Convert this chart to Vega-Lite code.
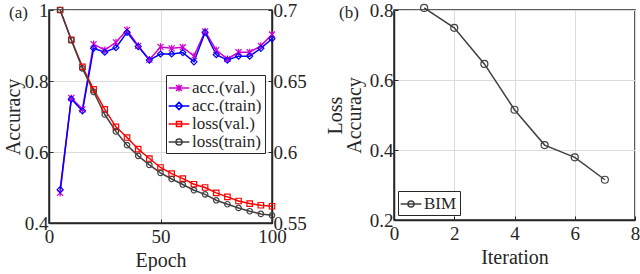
{
  "$schema": "https://vega.github.io/schema/vega-lite/v6.json",
  "background": "white",
  "padding": {"left": 2, "top": 0, "right": 0, "bottom": 0},
  "config": {
    "font": "Liberation Serif",
    "view": {"stroke": "#262626", "strokeWidth": 1.5},
    "concat": {"spacing": 17},
    "axis": {
      "labelFont": "Liberation Serif", "titleFont": "Liberation Serif",
      "labelFontSize": 19, "titleFontSize": 20, "titleFontWeight": "normal",
      "labelColor": "#262626", "titleColor": "#262626",
      "domainColor": "#262626", "domainWidth": 1.5,
      "tickColor": "#262626", "tickSize": -4, "tickWidth": 1,
      "gridColor": "#dcdcdc", "gridWidth": 1,
      "labelPadding": 5, "titlePadding": 1,
      "labelFlush": false, "labelOverlap": false
    },
    "axisX": {"labelPadding": 8, "titlePadding": 4},
    "legend": {
      "labelFont": "Liberation Serif", "labelFontSize": 17, "labelColor": "#262626",
      "strokeColor": "#262626", "fillColor": "white", "padding": 3,
      "symbolSize": 324, "symbolStrokeWidth": 1.5, "rowPadding": 0, "labelOffset": 3
    },
    "title": {"font": "Liberation Serif", "fontSize": 17, "fontWeight": "normal", "color": "#262626"}
  },
  "datasets": {
    "acc": [
      {"epoch": 5, "series": "acc.(val.)", "value": 0.485},
      {"epoch": 10, "series": "acc.(val.)", "value": 0.752},
      {"epoch": 15, "series": "acc.(val.)", "value": 0.720},
      {"epoch": 20, "series": "acc.(val.)", "value": 0.904},
      {"epoch": 25, "series": "acc.(val.)", "value": 0.887},
      {"epoch": 30, "series": "acc.(val.)", "value": 0.909},
      {"epoch": 35, "series": "acc.(val.)", "value": 0.944},
      {"epoch": 40, "series": "acc.(val.)", "value": 0.899},
      {"epoch": 45, "series": "acc.(val.)", "value": 0.860},
      {"epoch": 50, "series": "acc.(val.)", "value": 0.896},
      {"epoch": 55, "series": "acc.(val.)", "value": 0.892},
      {"epoch": 60, "series": "acc.(val.)", "value": 0.895},
      {"epoch": 65, "series": "acc.(val.)", "value": 0.870},
      {"epoch": 70, "series": "acc.(val.)", "value": 0.940},
      {"epoch": 75, "series": "acc.(val.)", "value": 0.887},
      {"epoch": 80, "series": "acc.(val.)", "value": 0.862},
      {"epoch": 85, "series": "acc.(val.)", "value": 0.881},
      {"epoch": 90, "series": "acc.(val.)", "value": 0.881},
      {"epoch": 95, "series": "acc.(val.)", "value": 0.899},
      {"epoch": 100, "series": "acc.(val.)", "value": 0.931},
      {"epoch": 5, "series": "acc.(train)", "value": 0.494},
      {"epoch": 10, "series": "acc.(train)", "value": 0.749},
      {"epoch": 15, "series": "acc.(train)", "value": 0.716},
      {"epoch": 20, "series": "acc.(train)", "value": 0.892},
      {"epoch": 25, "series": "acc.(train)", "value": 0.881},
      {"epoch": 30, "series": "acc.(train)", "value": 0.894},
      {"epoch": 35, "series": "acc.(train)", "value": 0.937},
      {"epoch": 40, "series": "acc.(train)", "value": 0.897},
      {"epoch": 45, "series": "acc.(train)", "value": 0.859},
      {"epoch": 50, "series": "acc.(train)", "value": 0.876},
      {"epoch": 55, "series": "acc.(train)", "value": 0.876},
      {"epoch": 60, "series": "acc.(train)", "value": 0.880},
      {"epoch": 65, "series": "acc.(train)", "value": 0.854},
      {"epoch": 70, "series": "acc.(train)", "value": 0.937},
      {"epoch": 75, "series": "acc.(train)", "value": 0.874},
      {"epoch": 80, "series": "acc.(train)", "value": 0.859},
      {"epoch": 85, "series": "acc.(train)", "value": 0.870},
      {"epoch": 90, "series": "acc.(train)", "value": 0.870},
      {"epoch": 95, "series": "acc.(train)", "value": 0.892},
      {"epoch": 100, "series": "acc.(train)", "value": 0.919}
    ],
    "loss": [
      {"epoch": 5, "series": "loss(val.)", "value": 0.7000},
      {"epoch": 10, "series": "loss(val.)", "value": 0.6790},
      {"epoch": 15, "series": "loss(val.)", "value": 0.6600},
      {"epoch": 20, "series": "loss(val.)", "value": 0.6441},
      {"epoch": 25, "series": "loss(val.)", "value": 0.6300},
      {"epoch": 30, "series": "loss(val.)", "value": 0.6177},
      {"epoch": 35, "series": "loss(val.)", "value": 0.6102},
      {"epoch": 40, "series": "loss(val.)", "value": 0.6020},
      {"epoch": 45, "series": "loss(val.)", "value": 0.5954},
      {"epoch": 50, "series": "loss(val.)", "value": 0.5891},
      {"epoch": 55, "series": "loss(val.)", "value": 0.5848},
      {"epoch": 60, "series": "loss(val.)", "value": 0.5813},
      {"epoch": 65, "series": "loss(val.)", "value": 0.5773},
      {"epoch": 70, "series": "loss(val.)", "value": 0.5750},
      {"epoch": 75, "series": "loss(val.)", "value": 0.5712},
      {"epoch": 80, "series": "loss(val.)", "value": 0.5684},
      {"epoch": 85, "series": "loss(val.)", "value": 0.5655},
      {"epoch": 90, "series": "loss(val.)", "value": 0.5637},
      {"epoch": 95, "series": "loss(val.)", "value": 0.5625},
      {"epoch": 100, "series": "loss(val.)", "value": 0.5618},
      {"epoch": 5, "series": "loss(train)", "value": 0.7000},
      {"epoch": 10, "series": "loss(train)", "value": 0.6788},
      {"epoch": 15, "series": "loss(train)", "value": 0.6589},
      {"epoch": 20, "series": "loss(train)", "value": 0.6424},
      {"epoch": 25, "series": "loss(train)", "value": 0.6264},
      {"epoch": 30, "series": "loss(train)", "value": 0.6145},
      {"epoch": 35, "series": "loss(train)", "value": 0.6048},
      {"epoch": 40, "series": "loss(train)", "value": 0.5973},
      {"epoch": 45, "series": "loss(train)", "value": 0.5909},
      {"epoch": 50, "series": "loss(train)", "value": 0.5853},
      {"epoch": 55, "series": "loss(train)", "value": 0.5810},
      {"epoch": 60, "series": "loss(train)", "value": 0.5771},
      {"epoch": 65, "series": "loss(train)", "value": 0.5731},
      {"epoch": 70, "series": "loss(train)", "value": 0.5702},
      {"epoch": 75, "series": "loss(train)", "value": 0.5660},
      {"epoch": 80, "series": "loss(train)", "value": 0.5632},
      {"epoch": 85, "series": "loss(train)", "value": 0.5606},
      {"epoch": 90, "series": "loss(train)", "value": 0.5583},
      {"epoch": 95, "series": "loss(train)", "value": 0.5564},
      {"epoch": 100, "series": "loss(train)", "value": 0.5554}
    ],
    "bim": [
      {"iteration": 1, "method": "BIM", "value": 0.806},
      {"iteration": 2, "method": "BIM", "value": 0.749},
      {"iteration": 3, "method": "BIM", "value": 0.646},
      {"iteration": 4, "method": "BIM", "value": 0.515},
      {"iteration": 5, "method": "BIM", "value": 0.414},
      {"iteration": 6, "method": "BIM", "value": 0.379},
      {"iteration": 7, "method": "BIM", "value": 0.315}
    ]
  },
  "resolve": {"scale": {"color": "independent"}, "legend": {"color": "independent"}},
  "hconcat": [
    {
      "width": 223,
      "height": 213,
      "title": {"text": "(a)", "anchor": "start", "frame": "group", "orient": "top", "offset": 0, "dx": -40, "dy": 21},
      "layer": [
        {
          "data": {"name": "acc"},
          "encoding": {
            "x": {"field": "epoch", "type": "quantitative", "title": "Epoch",
                  "scale": {"domain": [0, 100], "nice": false},
                  "axis": {"values": [0, 50, 100], "grid": true}},
            "y": {"field": "value", "type": "quantitative", "title": "Accuracy",
                  "scale": {"domain": [0.4, 1], "nice": false, "zero": false},
                  "axis": {"values": [0.4, 0.6, 0.8, 1], "format": "~g", "grid": true}},
            "color": {"field": "series", "type": "nominal",
                      "scale": {"domain": ["acc.(val.)", "acc.(train)", "loss(val.)", "loss(train)"],
                                "range": ["#D000D0", "#0000FF", "#FF0000", "#404040"]},
                      "legend": {"title": null, "orient": "none", "legendX": 117, "legendY": 65,
                                 "encode": {"symbols": {"update": {
                                   "fill": {"value": "transparent"},
                                   "shape": {"signal": "datum.value === 'acc.(val.)' ? 'M-1.15,0H1.15M-0.32,-0.32L0.32,0.32M-0.32,0.32L0.32,-0.32M0,-0.38V0.38' : datum.value === 'acc.(train)' ? 'M-1.15,0H1.15M0,-0.4L0.4,0L0,0.4L-0.4,0Z' : datum.value === 'loss(val.)' ? 'M-1.15,0H1.15M-0.28,-0.28H0.28V0.28H-0.28Z' : 'M-1.15,0H1.15M0.34,0A0.34,0.34,0,1,1,-0.34,0A0.34,0.34,0,1,1,0.34,0'"}
                                 }}}}}
          },
          "layer": [
            {"mark": {"type": "line", "strokeWidth": 1.5}},
            {"mark": {"type": "point", "filled": false, "strokeWidth": 1.2, "opacity": 1},
             "encoding": {
               "shape": {"field": "series", "type": "nominal", "legend": null,
                         "scale": {"domain": ["acc.(val.)", "acc.(train)", "loss(val.)", "loss(train)"],
                                   "range": ["M-1,-1L1,1M-1,1L1,-1M0,-1.2V1.2", "M0,-1L1,0L0,1L-1,0Z", "M-1,-1H1V1H-1Z", "circle"]}},
               "size": {"value": 36}
             }}
          ]
        },
        {
          "data": {"name": "loss"},
          "encoding": {
            "x": {"field": "epoch", "type": "quantitative"},
            "y": {"field": "value", "type": "quantitative", "title": null,
                  "scale": {"domain": [0.55, 0.7], "nice": false, "zero": false},
                  "axis": {"orient": "right", "values": [0.55, 0.6, 0.65, 0.7], "format": "~g", "grid": false}},
            "color": {"field": "series", "type": "nominal"}
          },
          "layer": [
            {"mark": {"type": "line", "strokeWidth": 1.5}},
            {"mark": {"type": "point", "filled": false, "strokeWidth": 1.2, "opacity": 1},
             "encoding": {
               "shape": {"field": "series", "type": "nominal", "legend": null},
               "size": {"value": 30}
             }}
          ]
        }
      ],
      "resolve": {"scale": {"y": "independent"}, "axis": {"y": "independent"}}
    },
    {
      "width": 241,
      "height": 210,
      "title": {"text": "(b)", "anchor": "start", "frame": "group", "orient": "top", "offset": 0, "dx": -55, "dy": 21},
      "data": {"name": "bim"},
      "encoding": {
        "x": {"field": "iteration", "type": "quantitative", "title": "Iteration",
              "scale": {"domain": [0, 8], "nice": false},
              "axis": {"values": [0, 2, 4, 6, 8], "grid": true}},
        "y": {"field": "value", "type": "quantitative", "title": ["Loss", "Accuracy"],
              "scale": {"domain": [0.2, 0.8], "nice": false, "zero": false},
              "axis": {"values": [0.2, 0.4, 0.6, 0.8], "format": "~g", "grid": true, "titleLineHeight": 19, "titlePadding": 5}},
        "color": {"field": "method", "type": "nominal",
                  "scale": {"domain": ["BIM"], "range": ["#404040"]},
                  "legend": {"title": null, "orient": "none", "legendX": 4, "legendY": 181,
                             "encode": {"symbols": {"update": {
                               "fill": {"value": "transparent"},
                               "shape": {"value": "M-1.15,0H1.15M0.34,0A0.34,0.34,0,1,1,-0.34,0A0.34,0.34,0,1,1,0.34,0"}}}}}}
      },
      "layer": [
        {"mark": {"type": "line", "strokeWidth": 1.5}},
        {"mark": {"type": "point", "filled": false, "strokeWidth": 1.2, "opacity": 1, "size": 49}}
      ]
    }
  ]
}
